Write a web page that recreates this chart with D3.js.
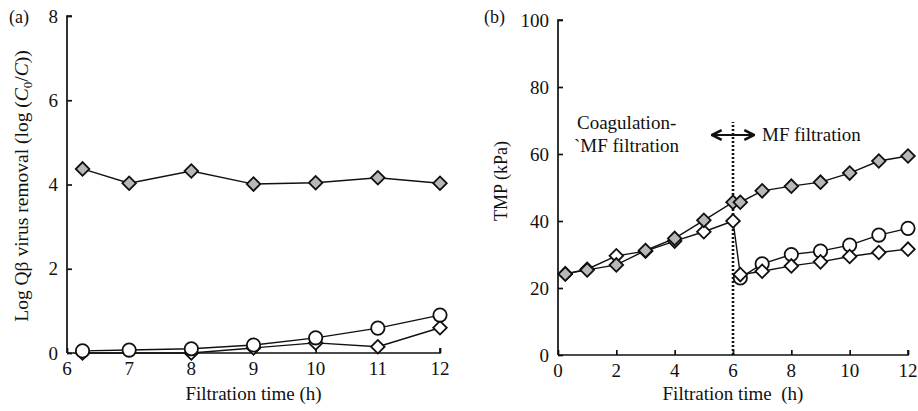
<!DOCTYPE html>
<html>
<head>
<meta charset="utf-8">
<script src="https://cdn.jsdelivr.net/npm/d3@7"></script>
<style>
  body { margin: 0; background: #fff; }
  svg text { font-family: "Liberation Serif", "Times New Roman", serif; fill: #111; }
</style>
</head>
<body>
<svg id="chart" width="918" height="411" font-family="Liberation Serif, serif"></svg>
<script>
// panel (a): log removal
const aX = [6.25, 7, 8, 9, 10, 11, 12];
const aShaded = [4.37, 4.03, 4.32, 4.01, 4.04, 4.16, 4.03];
const aCircle = [0.05, 0.07, 0.1, 0.19, 0.36, 0.59, 0.9];
const aDiamX = [6.25, 8, 9, 10, 11, 12];
const aDiam = [0.0, 0.0, 0.12, 0.24, 0.15, 0.6];
const aXTicks = [6, 7, 8, 9, 10, 11, 12];
const aYTicks = [0, 2, 4, 6, 8];

// panel (b): TMP
const bX = [0.25, 1, 2, 3, 4, 5, 6, 6.25, 7, 8, 9, 10, 11, 12];
const bShaded = [24.2, 25.4, 26.9, 31.2, 34.8, 40.2, 45.6, 45.6, 49, 50.4, 51.6, 54.3, 57.9, 59.4];
const bDiam = [24.2, 25.6, 29.6, 31, 34, 36.8, 40, 24, 25, 26.6, 27.8, 29.4, 30.6, 31.6];
const bCircX = [6.25, 7, 8, 9, 10, 11, 12];
const bCircle = [23, 27.2, 30, 31, 32.8, 35.8, 37.8];
const bXTicks = [0, 2, 4, 6, 8, 10, 12];
const bYTicks = [0, 20, 40, 60, 80, 100];

const svg = d3.select("#chart");

function panel(opt) {
    const x = d3.scaleLinear().domain(opt.xDomain).range(opt.xRange);
    const y = d3.scaleLinear().domain(opt.yDomain).range(opt.yRange);
    const g = svg.append("g");

    // axes
    const yAxis = g.append("g")
        .attr("transform", `translate(${opt.xRange[0]},0)`)
        .call(d3.axisRight(y).tickValues(opt.yTicks).tickSize(5).tickFormat(""));
    yAxis.select(".domain").attr("d", `M5,${opt.yRange[1]}H0V${opt.yRange[0]}`);
    g.selectAll(".ylab").data(opt.yTicks).join("text")
        .attr("x", opt.xRange[0] - 9).attr("y", d => y(d) + 6.5)
        .attr("text-anchor", "end").attr("font-size", 19).text(d => d);

    const xAxis = g.append("g")
        .attr("transform", `translate(0,${opt.yRange[0]})`)
        .call(d3.axisTop(x).tickValues(opt.xTicks).tickSize(5).tickFormat(""));
    xAxis.select(".domain").attr("d", `M${opt.xRange[0]},0H${opt.xRange[1]}V-5`);
    g.selectAll(".xlab").data(opt.xTicks).join("text")
        .attr("x", d => x(d)).attr("y", opt.yRange[0] + 22)
        .attr("text-anchor", "middle").attr("font-size", 19).text(d => d);
    g.selectAll(".domain, .tick line").attr("stroke", "#111").attr("stroke-width", 1.7);

    g.append("text")
        .attr("x", (opt.xRange[0] + opt.xRange[1]) / 2).attr("y", 400)
        .attr("text-anchor", "middle").attr("font-size", 19)
        .attr("xml:space", "preserve").text(opt.xTitle);

    g.append("text").attr("x", opt.labelX).attr("y", 23)
        .attr("font-size", 18).text(opt.label);

    return { g, x, y };
}

function series(p, xs, ys, shape, fill) {
    const pts = xs.map((d, i) => [d, ys[i]]);
    p.g.append("path")
        .attr("d", d3.line().x(d => p.x(d[0])).y(d => p.y(d[1]))(pts))
        .attr("fill", "none").attr("stroke", "#111").attr("stroke-width", 1.4);
    const sym = shape === "circle"
        ? d3.symbol(d3.symbolCircle, 140)
        : d3.symbol(d3.symbolSquare, 92);
    p.g.selectAll(null).data(pts).join("path")
        .attr("d", sym)
        .attr("transform", d => `translate(${p.x(d[0])},${p.y(d[1])})` + (shape === "circle" ? "" : " rotate(45)"))
        .attr("fill", fill).attr("stroke", "#111").attr("stroke-width", 1.8);
}

// (a)
const pa = panel({
    xDomain: [6, 12], xRange: [67, 440],
    yDomain: [0, 8], yRange: [353, 16],
    xTicks: aXTicks, yTicks: aYTicks,
    xTitle: "Filtration time (h)", label: "(a)", labelX: 9
});
series(pa, aDiamX, aDiam, "diamond", "#fff");
series(pa, aX, aCircle, "circle", "#fff");
series(pa, aX, aShaded, "diamond", "#b8b8b8");

const aTitle = svg.append("text")
    .attr("transform", "translate(28,186) rotate(-90)")
    .attr("text-anchor", "middle").attr("font-size", 19.5);
aTitle.append("tspan").text("Log Q\u03b2 virus removal (log (");
aTitle.append("tspan").attr("font-style", "italic").text("C");
aTitle.append("tspan").attr("font-size", 13).attr("dy", 4).text("0");
aTitle.append("tspan").attr("dy", -4).text("/");
aTitle.append("tspan").attr("font-style", "italic").text("C");
aTitle.append("tspan").text("))");

// (b)
const pb = panel({
    xDomain: [0, 12], xRange: [558, 908],
    yDomain: [0, 100], yRange: [355, 20],
    xTicks: bXTicks, yTicks: bYTicks,
    xTitle: "Filtration time  (h)", label: "(b)", labelX: 484
});

// dotted switch line at 6 h
pb.g.append("line")
    .attr("x1", pb.x(6)).attr("x2", pb.x(6))
    .attr("y1", pb.y(0)).attr("y2", 122)
    .attr("stroke", "#111").attr("stroke-width", 2.6).attr("stroke-dasharray", "2,2");

series(pb, bCircX, bCircle, "circle", "#fff");
series(pb, bX, bDiam, "diamond", "#fff");
series(pb, bX, bShaded, "diamond", "#b8b8b8");

svg.append("text").attr("transform", "translate(507,181) rotate(-90)")
    .attr("text-anchor", "middle").attr("font-size", 18).text("TMP (kPa)");

// annotations
svg.append("defs").append("marker")
    .attr("id", "ah").attr("viewBox", "0 0 10 10").attr("refX", 9).attr("refY", 5)
    .attr("markerWidth", 5.5).attr("markerHeight", 5.5).attr("orient", "auto-start-reverse")
    .append("path").attr("d", "M1,1L9,5L1,9").attr("fill", "none").attr("stroke", "#111").attr("stroke-width", 2.2);
svg.append("line").attr("x1", 712).attr("x2", 754).attr("y1", 135).attr("y2", 135)
    .attr("stroke", "#111").attr("stroke-width", 2.2)
    .attr("marker-start", "url(#ah)").attr("marker-end", "url(#ah)");
svg.append("text").attr("x", 762).attr("y", 141).attr("font-size", 19).text("MF filtration");
svg.append("text").attr("x", 577).attr("y", 129).attr("font-size", 19).text("Coagulation-");
svg.append("text").attr("x", 574).attr("y", 152).attr("font-size", 19).text("`MF filtration");
</script>
</body>
</html>
